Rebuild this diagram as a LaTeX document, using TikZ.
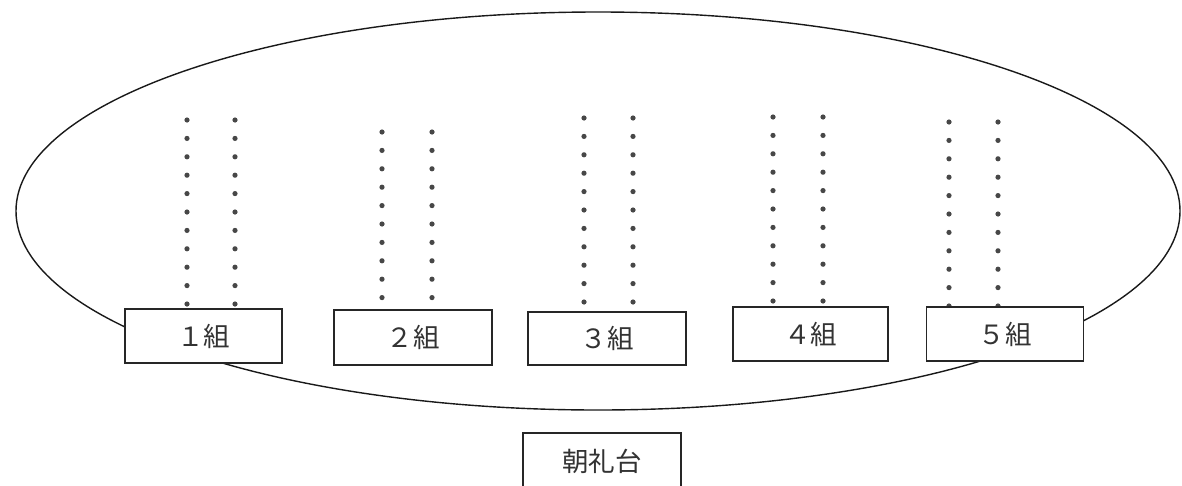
\documentclass[tikz,border=0pt]{standalone}
\usepackage{fontspec}
\newfontfamily\jp{Noto Sans CJK JP}
\begin{document}
\begin{tikzpicture}[x=1pt,y=-1pt,
  klass/.style={draw=black!85, line width=1.3pt, fill=white, inner sep=0pt,
    minimum width=157pt, minimum height=54pt, font=\jp\fontsize{26.5}{26.5}\selectfont, text=black!80},
  pupil/.style={fill=black!72}]
\useasboundingbox (0,0) rectangle (1182,485);
% ground
\draw[line width=1.4pt, black!90] (598,211) ellipse [x radius=582pt, y radius=199pt];
% rows of pupils
\foreach \xa/\xb/\ya/\n in {187/235/120/11, 382/432/132/10, 584/633/118/11, 773/823/117/11, 949/998/122/11}{
  \foreach \i in {1,...,\n}{
    \fill[pupil] (\xa, {\ya+(\i-1)*18.4}) circle[radius=2.6pt];
    \fill[pupil] (\xb, {\ya+(\i-1)*18.4}) circle[radius=2.6pt];
  }
}
% classes
\node[klass] (c1) at (203.5,336) {１組};
\node[klass, minimum width=158pt, minimum height=55pt] (c2) at (413,337.5) {２組};
\node[klass, minimum width=158pt, minimum height=53pt] (c3) at (607,338.5) {３組};
\node[klass, minimum width=155pt] (c4) at (810.5,334) {４組};
\node[klass] (c5) at (1005,334) {５組};
% platform
\node[klass, minimum width=158pt, minimum height=56pt] (stage) at (602,461) {朝礼台};
\end{tikzpicture}
\end{document}
